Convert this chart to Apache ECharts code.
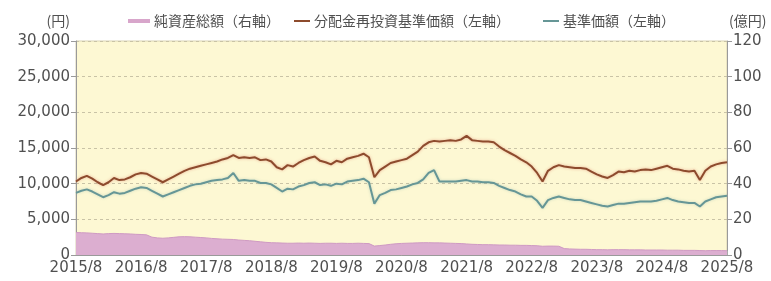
<!DOCTYPE html>
<html><head><meta charset="utf-8">
<script src="https://cdn.jsdelivr.net/npm/echarts@6/dist/echarts.min.js"></script>
<style>html,body{margin:0;padding:0;background:#fff}#c{width:771px;height:281px}</style>
</head><body><div id="c"></div>
<script>
const xTickLabels = ["2015/8","2016/8","2017/8","2018/8","2019/8","2020/8","2021/8","2022/8","2023/8","2024/8","2025/8"];
const leftTicks = [0,5000,10000,15000,20000,25000,30000];
const rightTicks = [0,20,40,60,80,100,120];
const seriesNames = ["純資産総額（右軸）","分配金再投資基準価額（左軸）","基準価額（左軸）"];

// 分配金再投資基準価額 (円), monthly from 2015/8 to 2025/8
const reinvestNav = [10300,10800,11100,10700,10200,9800,10200,10800,10500,10600,
10900,11300,11500,11400,11000,10600,10200,10600,11000,11400,
11800,12100,12300,12500,12700,12900,13100,13400,13600,14000,
13600,13700,13600,13700,13300,13400,13100,12300,12000,12600,
12400,12900,13300,13600,13800,13200,13000,12700,13200,13000,
13500,13700,13900,14200,13700,10900,11900,12400,12900,13100,
13300,13500,14000,14500,15300,15800,16000,15900,16000,16100,
16000,16200,16700,16100,16000,15900,15900,15800,15200,14700,
14300,13900,13400,13000,12400,11500,10300,11800,12300,12600,
12400,12300,12200,12200,12100,11700,11300,11000,10800,11200,
11700,11600,11800,11700,11900,12000,11900,12100,12300,12500,
12100,12000,11800,11700,11800,10500,11800,12400,12700,12900,
13000];

// 基準価額 (円)
const nav = [8700,9000,9200,8900,8500,8100,8400,8800,8600,8700,
9000,9300,9500,9400,9000,8600,8200,8500,8800,9100,
9400,9700,9900,10000,10200,10400,10500,10600,10800,11500,
10400,10500,10400,10400,10100,10100,9900,9400,8900,9300,
9200,9600,9800,10100,10200,9800,9900,9700,10000,9900,
10300,10400,10500,10700,10200,7200,8400,8700,9100,9200,
9400,9600,9900,10100,10600,11500,11900,10300,10300,10300,
10300,10400,10500,10300,10300,10200,10200,10100,9700,9400,
9100,8900,8500,8200,8200,7600,6600,7700,8000,8200,
8000,7800,7700,7700,7500,7300,7100,6900,6800,7000,
7200,7200,7300,7400,7500,7500,7500,7600,7800,8000,
7700,7500,7400,7300,7300,6800,7500,7800,8100,8200,
8300];

// 純資産総額 (億円)
const netAssets = [12.6,12.5,12.4,12.2,12.0,11.8,12.0,12.1,12.0,11.9,11.8,11.6,11.5,11.3,
10.0,9.6,9.4,9.6,9.9,10.2,10.3,
10.2,10.0,9.8,9.6,9.3,9.1,8.9,8.8,8.7,
8.4,8.2,8.0,7.7,7.4,7.1,6.9,
6.8,6.7,6.6,6.6,6.7,6.6,6.7,6.6,6.5,6.6,6.6,6.5,6.6,6.5,6.5,6.6,6.5,6.4,
5.0,5.3,5.6,6.0,
6.3,6.5,6.6,6.7,6.8,6.9,6.9,6.8,6.8,6.7,6.6,6.5,6.4,
6.2,6.0,5.9,5.8,5.8,5.7,5.6,5.6,5.5,5.5,5.4,5.4,5.3,5.2,4.9,5.0,5.0,4.9,
3.6,3.4,3.3,3.2,3.2,3.1,3.0,3.0,2.9,3.0,3.0,3.0,2.9,2.9,2.9,2.8,2.8,2.8,2.8,2.7,
2.7,2.7,2.6,2.6,2.6,2.5,2.4,2.5,2.5,2.5,2.4];

// month categories 2015/8 .. 2025/8
const months = [];
for (let i = 0; i < reinvestNav.length; i++) {
  const t = 2015 * 12 + 7 + i;
  months.push(Math.floor(t / 12) + "/" + (t % 12 + 1));
}

const txt = '#505050';
const numFont = 'DejaVu Sans';
const cjkFont = '"Noto Sans CJK JP"';
const chart = echarts.init(document.getElementById('c'), null, {renderer:'canvas'});
const legendBase = {
  top: 9, icon: 'rect', itemGap: 0,
  textStyle: {color: txt, fontSize: 14, fontFamily: cjkFont, padding: [0,0,0,-1]}
};
chart.setOption({
  animation: false,
  backgroundColor: '#fff',
  legend: [
    Object.assign({}, legendBase, {left: 123, itemWidth: 22, itemHeight: 4, data: [seriesNames[0]]}),
    Object.assign({}, legendBase, {left: 289, itemWidth: 16, itemHeight: 2, data: [seriesNames[1]]}),
    Object.assign({}, legendBase, {left: 538, itemWidth: 16, itemHeight: 2, data: [seriesNames[2]]})
  ],
  grid: {left: 76, right: 44, top: 41, bottom: 26, show: true, backgroundColor: '#fdf8d3', borderColor: '#d9d3b3', borderWidth: 1},
  xAxis: {
    type: 'category', data: months, boundaryGap: false,
    axisLine: {lineStyle: {color: '#9a9a9a'}},
    axisTick: {inside: true, length: 4, interval: 11, lineStyle: {color: '#aaa'}},
    axisLabel: {interval: 11, color: txt, fontSize: 15, fontFamily: numFont, margin: 6,
      formatter: (v, i) => xTickLabels[Math.round(i / 12)]}
  },
  yAxis: [
    {type: 'value', min: leftTicks[0], max: leftTicks[leftTicks.length-1], interval: 5000,
     name: '(円)', nameLocation: 'end', nameGap: 13,
     nameTextStyle: {color: txt, fontSize: 14, fontFamily: cjkFont, align: 'right', padding: [0,6,0,0]},
     axisLine: {show: true, lineStyle: {color: '#9a9a9a'}},
     axisTick: {show: true, length: 5, lineStyle: {color: '#9a9a9a'}},
     axisLabel: {color: txt, fontSize: 15, fontFamily: numFont, margin: 6,
       formatter: v => v.toLocaleString('en-US')},
     splitLine: {show: true, lineStyle: {color: '#c9c3a6', type: [3,3], width: 1}}
    },
    {type: 'value', min: rightTicks[0], max: rightTicks[rightTicks.length-1], interval: 20,
     name: '(億円)', nameLocation: 'end', nameGap: 13,
     nameTextStyle: {color: txt, fontSize: 14, fontFamily: cjkFont, align: 'left', padding: [0,0,0,2]},
     axisLine: {show: true, lineStyle: {color: '#9a9a9a'}},
     axisTick: {show: true, length: 5, lineStyle: {color: '#9a9a9a'}},
     axisLabel: {color: txt, fontSize: 15, fontFamily: numFont, margin: 6},
     splitLine: {show: false}
    }
  ],
  series: [
    {name: seriesNames[0], type: 'line', yAxisIndex: 1, data: netAssets, symbol: 'none',
     color: '#d8a6cb', lineStyle: {width: 1, color: '#cf9ac3'},
     areaStyle: {color: '#dcaed0', opacity: 1}, z: 1},
    {name: seriesNames[1], type: 'line', yAxisIndex: 0, data: reinvestNav, symbol: 'none',
     color: '#8d4b2d', lineStyle: {width: 2, color: '#8d4b2d', shadowColor: 'rgba(210,90,70,0.45)', shadowBlur: 3}, z: 3},
    {name: seriesNames[2], type: 'line', yAxisIndex: 0, data: nav, symbol: 'none',
     color: '#669696', lineStyle: {width: 2, color: '#669696', shadowColor: 'rgba(120,170,160,0.4)', shadowBlur: 3}, z: 2}
  ]
});
</script></body></html>
